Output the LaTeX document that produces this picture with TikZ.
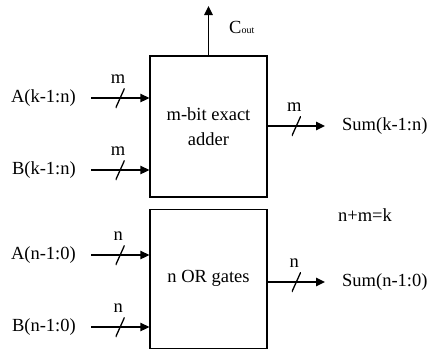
\documentclass[tikz,border=0pt]{standalone}
\usepackage{fontspec}
\setmainfont{Liberation Serif}
\usetikzlibrary{arrows.meta, positioning}

\begin{document}
\begin{tikzpicture}[
    x=1pt, y=-1pt,
    font=\fontsize{18.5}{25}\selectfont,
    block/.style={rectangle, draw, line width=1.3pt, minimum width=117pt, align=center},
    sig/.style={inner sep=0pt},
    arrow/.style={-{Triangle[length=9pt, width=8.5pt]}, line width=1.3pt},
    bus/.style={inner sep=0pt, minimum width=9pt, minimum height=20pt,
      path picture={\draw[-, line width=1.3pt] (path picture bounding box.south west) -- (path picture bounding box.north east);}},
    buslabel/.style={inner sep=0pt, label distance=3pt, xshift=-2pt}
  ]
  \useasboundingbox (0,0) rectangle (432,349);

  % ============ BLOCKS ============
  \node[block, minimum height=141pt] (adder) at (208.5,126.5) {m-bit exact\\adder};
  \node[block, minimum height=139pt, below=11pt of adder] (orgates) {n OR gates};

  % ============ SIGNALS ============
  \node[sig, anchor=east] (ahi) at (76,98) {A(k-1:n)};
  \node[sig, anchor=east] (bhi) at (76,170) {B(k-1:n)};
  \node[sig, anchor=east] (alo) at (76,255) {A(n-1:0)};
  \node[sig, anchor=east] (blo) at (76,327) {B(n-1:0)};
  \node[sig, anchor=west] (sumhi) at (342,126) {Sum(k-1:n)};
  \node[sig, anchor=west] (sumlo) at (342,282) {Sum(n-1:0)};
  \node[sig] (rel) at (365,215) {n+m=k};
  \node[sig, anchor=west] (cout) at (229,27) {C{\fontsize{10}{11}\selectfont out}};
  \coordinate (ctop) at (adder.north |- 0,6);

  % inputs
  \draw[arrow] ([xshift=15pt]ahi.east) -- node[bus, label={[buslabel]above:m}] {} (ahi -| adder.west);
  \draw[arrow] ([xshift=15pt]bhi.east) -- node[bus, label={[buslabel]above:m}] {} (bhi -| adder.west);
  \draw[arrow] ([xshift=15pt]alo.east) -- node[bus, label={[buslabel]above:n}] {} (alo -| orgates.west);
  \draw[arrow] ([xshift=15pt]blo.east) -- node[bus, label={[buslabel]above:n}] {} (blo -| orgates.west);

  % outputs
  \draw[arrow] (adder.east |- sumhi) -- node[bus, label={[buslabel]above:m}] {} ([xshift=-17pt]sumhi.west);
  \draw[arrow] (orgates.east |- sumlo) -- node[bus, label={[buslabel]above:n}] {} ([xshift=-17pt]sumlo.west);
  \draw[arrow] (adder.north) -- (ctop);

\end{tikzpicture}
\end{document}
